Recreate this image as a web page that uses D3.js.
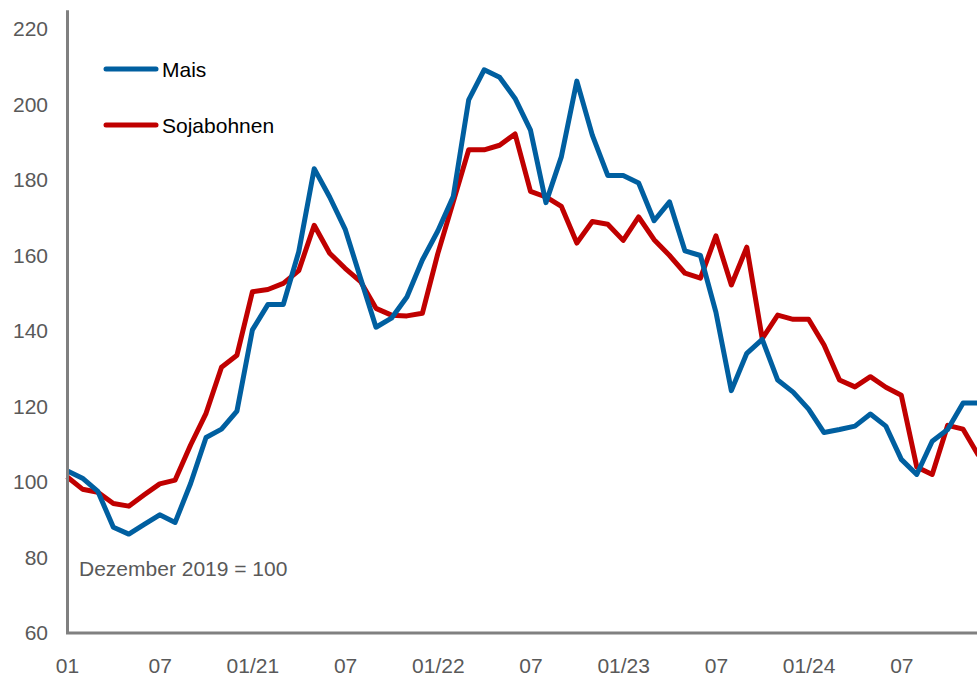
<!DOCTYPE html>
<html>
<head>
<meta charset="utf-8">
<script src="https://cdn.jsdelivr.net/npm/d3@7"></script>
<style>
  body { margin: 0; background: #fff; }
  svg { display: block; font-family: "Liberation Sans", Arial, sans-serif; }
</style>
</head>
<body>
<svg id="chart" width="977" height="678"></svg>
<script>
// months Jan 2020 .. Dec 2024
const months = d3.timeMonth.range(new Date(2020, 0, 1), new Date(2025, 0, 1));

const mais = [
  103, 101, 97.5, 88, 86.2, 88.8, 91.3, 89.3, 99.6, 111.8, 114, 118.8,
  140.3, 147, 147, 161, 183, 175.5, 167, 154, 141, 143.4, 149, 158.8,
  166.5, 175.6, 201.2, 209.2, 207.2, 201.6, 193.2, 174, 186.2, 206.2, 191.9, 181.2,
  181.2, 179.2, 169.2, 174.2, 161.2, 160, 145, 124.2, 134.1, 137.8, 127, 123.8,
  119.3, 113.1, 113.9, 114.8, 118, 114.8, 106, 102, 110.8, 113.9, 120.9, 120.9
];
const soja = [
  101.4, 98.1, 97.3, 94.3, 93.6, 96.6, 99.5, 100.5, 109.8, 118.2, 130.4, 133.6,
  150.4, 151, 152.6, 156, 168, 160.6, 156.6, 153.1, 146, 144.2, 144, 144.7,
  160.5, 174.2, 188, 188, 189.2, 192.2, 177, 175.5, 173, 163.3, 169, 168.3,
  164, 170.2, 164.2, 160, 155.3, 154, 165.2, 152.2, 162.2, 138, 144.2, 143.1,
  143.1, 136.3, 127, 125.2, 127.9, 125.1, 123, 104, 102, 115, 114, 107
];

const yTicks = [60, 80, 100, 120, 140, 160, 180, 200, 220];
const xTickLabels = ["01", "07", "01/21", "07", "01/22", "07", "01/23", "07", "01/24", "07"];

const blue = "#005fa0";
const red = "#c00000";

const svg = d3.select("#chart");

const x = d3.scaleLinear()
  .domain([0, months.length - 1])
  .range([67, 67 + 59 * 15.45]);

const y = d3.scaleLinear()
  .domain([60, 220])
  .range([633, 29]);

// y tick labels
const yAxis = d3.axisLeft(y).tickValues(yTicks).tickSize(0).tickPadding(19);
const gy = svg.append("g").attr("transform", "translate(67,0)").call(yAxis);
gy.select(".domain").remove();
gy.selectAll("text")
  .attr("fill", "#595959")
  .style("font-size", "21px")
  .style("font-family", "Liberation Sans, Arial, sans-serif");

// x tick labels (every 6 months)
const xTickIdx = xTickLabels.map((d, i) => i * 6);
const xAxis = d3.axisBottom(x).tickValues(xTickIdx).tickSize(0).tickPadding(25)
  .tickFormat((d, i) => xTickLabels[i]);
const gx = svg.append("g").attr("transform", "translate(0,633)").call(xAxis);
gx.select(".domain").remove();
gx.selectAll("text")
  .attr("fill", "#595959")
  .style("font-size", "21px")
  .style("font-family", "Liberation Sans, Arial, sans-serif");

// note
svg.append("text")
  .attr("x", 79)
  .attr("y", 576)
  .attr("fill", "#595959")
  .style("font-size", "21px")
  .text("Dezember 2019 = 100");

// lines
const line = d3.line()
  .x((d, i) => x(i))
  .y(d => y(d));

svg.append("path")
  .datum(soja)
  .attr("fill", "none")
  .attr("stroke", red)
  .attr("stroke-width", 5)
  .attr("stroke-linejoin", "round")
  .attr("d", line);

svg.append("path")
  .datum(mais)
  .attr("fill", "none")
  .attr("stroke", blue)
  .attr("stroke-width", 5)
  .attr("stroke-linejoin", "round")
  .attr("d", line);

// axis lines
svg.append("line")
  .attr("x1", 67.5).attr("x2", 67.5)
  .attr("y1", y(225)).attr("y2", y(60))
  .attr("stroke", "#808080").attr("stroke-width", 3);
svg.append("line")
  .attr("x1", 66).attr("x2", 977)
  .attr("y1", y(60)).attr("y2", y(60))
  .attr("stroke", "#808080").attr("stroke-width", 3);

// legend
const legend = [
  { name: "Mais", color: blue },
  { name: "Sojabohnen", color: red }
];
const lg = svg.append("g");
legend.forEach((d, i) => {
  const ly = 69 + i * 56;
  lg.append("line")
    .attr("x1", 106).attr("x2", 156)
    .attr("y1", ly).attr("y2", ly)
    .attr("stroke", d.color).attr("stroke-width", 5)
    .attr("stroke-linecap", "round");
  lg.append("text")
    .attr("x", 162).attr("y", ly)
    .attr("dy", "0.36em")
    .attr("fill", "#000")
    .style("font-size", "21px")
    .text(d.name);
});
</script>
</body>
</html>
